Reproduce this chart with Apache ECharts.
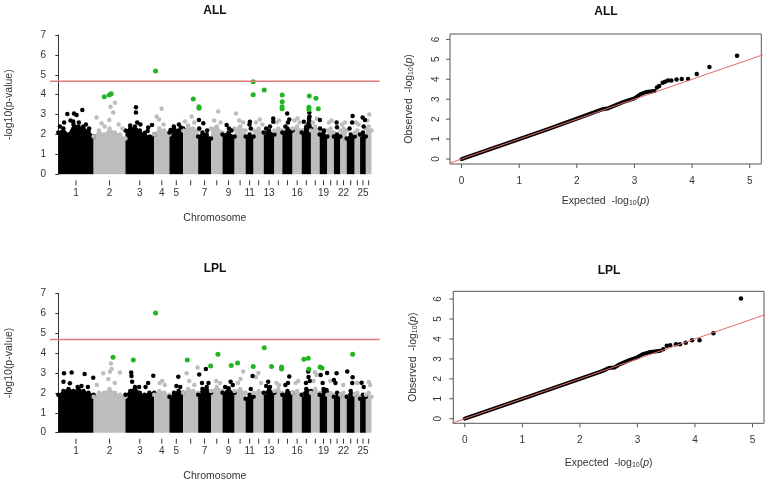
<!DOCTYPE html>
<html><head><meta charset="utf-8">
<script src="https://cdn.jsdelivr.net/npm/echarts@6/dist/echarts.min.js"></script>
<style>html,body{margin:0;padding:0;background:#fff}#c{width:768px;height:488px}</style>
</head><body><div id="c"></div>
<script>
// ---------- data ----------
const chrLengths = [275,248,224,119,107,117,100,90,94,86,62,79,83,62,80,71,72,68,60,51,50,50,62,42,45,44];
const labeledChr = [1,2,3,4,5,7,9,11,13,16,19,22,25];
const threshold = 4.68;

// dense-mass top heights per chromosome (evenly spaced along each chromosome)
const allEnvelope = [
  [2.1,2.3,2.0,2.5,2.4,2.3,2.2,1.9],[1.9,2.2,2.0,2.3,2.1,2.0,1.8],[2.2,2.3,2.4,2.2,2.0,1.9,2.0],
  [2.0,2.3,2.2,2.0],[2.1,2.3,2.2,2.3],[2.2,2.4,2.3,2.2],[1.9,2.1,2.0,1.8],
  [2.3,2.4,2.1],[2.0,2.1,1.9],[2.3,2.4,2.2],[1.9,2.0,1.9],[2.2,2.3,2.1],[2.1,2.2,2.0],
  [2.2,2.3,2.2],[2.1,2.3,2.2],[2.3,2.4,2.2],[2.1,2.4,2.3],[2.2,2.4,2.2],[2.0,2.1,1.9],
  [2.2,2.3,2.1],[1.9,2.0,1.9],[2.2,2.3,2.2],[1.8,2.0,1.9],[2.1,2.2,2.0],[2.0,2.1,1.9],[2.3,2.4,2.2]
];
const allBlack = [
  [12,2.4],[45,2.6],[70,3.03],[95,2.7],[116,2.65],[122,3.06],[142,2.98],[160,2.6],[187,3.23],[194,2.4],[215,2.5],[240,2.3],
  [560,2.45],[605,3.37],[605,3.1],[615,2.6],[640,2.5],[675,2.09],[696,2.18],[700,2.35],[730,2.48],
  [875,2.22],[900,2.4],[940,2.5],[955,2.35],
  [1096,2.73],[1098,2.3],[1130,2.56],[1160,2.2],
  [1312,2.48],[1330,2.3],[1350,2.2],
  [1493,2.64],[1490,2.5],[1500,2.3],
  [1675,2.81],[1675,2.64],[1650,2.4],[1620,2.3],
  [1784,3.06],[1800,2.76],[1790,2.6],[1770,2.4],
  [1914,2.64],[1956,3.1],[1954,2.8],[1950,2.55],[1958,2.9],[1955,2.7],[1957,2.45],[1930,2.3],
  [2039,2.73],[2040,2.3],[2070,2.2],
  [2169,2.6],[2172,2.36],
  [2294,2.93],[2290,2.6],[2270,2.3],
  [2372,2.85],[2390,2.73],[2380,2.4]
];
const allGrey = [
  [298,2.85],[337,2.56],[360,2.4],[397,2.73],[407,3.4],[428,3.1],[441,3.6],[470,2.5],[500,2.3],
  [766,2.9],[785,2.76],[805,3.3],[820,2.5],
  [987,2.65],[1010,2.45],[1039,2.9],[1060,2.6],
  [1215,2.7],[1246,3.15],[1265,2.6],
  [1384,3.06],[1410,2.7],[1440,2.6],
  [1540,2.6],[1570,2.75],[1590,2.5],
  [1700,2.6],[1720,2.7],
  [1840,2.7],[1865,2.8],[1880,2.6],
  [1985,2.6],[2015,2.8],
  [2110,2.6],[2130,2.7],
  [2210,2.5],[2235,2.6],
  [2320,2.6],[2340,2.5],
  [2410,2.7],[2424,3.0]
];
const allGreen = [
  [358,3.9],[397,3.98],[412,4.05],[758,5.19],[1052,3.78],[1096,3.4],[1097,3.32],[1519,4.65],[1519,4.0],
  [1605,4.24],[1745,3.98],[1745,3.65],[1744,3.4],[1744,3.3],[1956,3.93],[1953,3.37],[1953,3.25],[2008,3.82],[2026,3.3]
];

const lplEnvelope = [
  [1.9,2.1,2.2,2.1,2.2,2.1,2.0,1.9],[1.8,2.0,2.0,2.2,2.0,1.9,1.8],[1.9,2.1,2.3,2.0,1.9,2.0,2.0],
  [1.9,2.1,2.0,1.9],[1.8,2.0,2.1,2.0],[2.0,2.2,2.1,2.0],[1.9,2.2,2.3,2.0],
  [2.1,2.3,2.1],[2.0,2.2,2.0],[2.1,2.2,2.0],[1.7,1.9,1.8],[2.0,2.1,2.0],[2.0,2.2,2.0],
  [2.1,2.2,2.0],[1.9,2.1,2.0],[2.0,2.1,1.9],[1.9,2.2,2.1],[2.0,2.2,2.0],[1.9,2.2,2.0],
  [1.9,2.0,1.9],[1.8,2.0,1.9],[1.9,2.0,1.8],[1.8,2.1,1.9],[1.9,2.0,1.8],[1.7,1.9,1.8],[1.9,2.0,1.8]
];
const lplBlack = [
  [40,2.56],[44,2.98],[90,2.48],[104,3.02],[150,2.3],[180,2.35],[205,2.95],[230,2.3],[272,2.76],
  [568,3.02],[570,2.85],[575,2.56],[630,2.3],[680,2.3],[700,2.5],[740,2.86],
  [920,2.35],[935,2.81],[950,2.3],
  [1098,2.92],[1120,2.5],[1150,3.2],[1170,2.5],
  [1300,2.3],[1327,2.23],[1343,2.56],[1360,2.4],
  [1500,2.2],[1514,2.85],
  [1620,2.35],[1636,2.56],[1650,2.3],
  [1770,2.4],[1790,2.5],[1800,2.82],
  [1930,2.5],[1948,3.07],[1950,2.8],[1960,2.6],
  [2045,2.9],[2060,2.5],[2091,2.15],[2095,3.0],
  [2148,2.65],[2160,2.5],[2169,2.98],
  [2252,3.07],[2291,2.5],[2294,2.78],
  [2364,2.51],[2380,2.3]
];
const lplGrey = [
  [300,2.4],[350,2.98],[390,2.7],[402,3.06],[410,3.48],[415,3.2],[440,2.5],[480,3.02],
  [790,2.5],[810,2.6],[830,2.4],
  [1000,2.98],[1020,2.6],[1060,2.4],[1085,3.28],
  [1230,2.6],[1260,2.5],
  [1400,2.5],[1420,2.7],[1441,3.07],
  [1540,2.8],[1560,3.0],[1580,2.5],
  [1700,2.5],[1720,2.4],
  [1850,2.5],[1870,2.6],
  [1990,2.6],[2000,3.03],[2013,2.9],
  [2120,2.6],[2220,2.4],[2330,2.5],[2420,2.55],[2430,2.4]
];
const lplGreen = [
  [426,3.79],[584,3.65],[758,6.01],[1005,3.65],[1187,3.35],[1244,3.94],[1348,3.38],[1397,3.5],[1519,3.33],
  [1605,4.27],[1662,3.33],[1740,3.3],[1740,3.2],[1914,3.69],[1948,3.74],[1953,3.18],[2040,3.3],[2055,3.25],[2294,3.94]
];

// QQ plots [expected, observed]
const qqAllBody = [[0,0],[0.5,0.5],[1,1],[1.5,1.5],[2,2.02],[2.45,2.5],[2.55,2.55],[2.8,2.85],[3.0,3.04],[3.1,3.24],[3.2,3.36],[3.35,3.41]];
const qqAllTail = [[3.39,3.59],[3.43,3.66],[3.49,3.83],[3.53,3.88],[3.58,3.94],[3.64,3.94],[3.73,3.99],[3.82,4.01],[3.93,4.01],[4.08,4.26],[4.30,4.61],[4.78,5.18]];
const qqLplBody = [[0,0],[1,1],[2,2],[2.4,2.4],[2.5,2.54],[2.6,2.57],[2.7,2.74],[2.86,2.94],[3.0,3.08],[3.09,3.24],[3.2,3.33],[3.4,3.41]];
const qqLplTail = [[3.45,3.48],[3.51,3.66],[3.57,3.69],[3.67,3.73],[3.74,3.74],[3.84,3.81],[3.95,3.93],[4.08,3.93],[4.32,4.28],[4.80,6.03]];
const qqTicksX = [0,1,2,3,4,5];
const qqTicksY = [0,1,2,3,4,5,6];

// ---------- build ----------
const FONT = 'Liberation Sans, Arial, Helvetica, sans-serif';
const TXT = '#333';
const BLACK = '#000', GREY = '#bdbdbd', GREEN = '#22b522', RED = '#e07b7b';
const starts = []; let acc = 0;
chrLengths.forEach(l => { starts.push(acc); acc += l; });
const centers = chrLengths.map((l, i) => starts[i] + l / 2);
const labelCenters = labeledChr.map(c => centers[c - 1]);
const chrOf = v => { for (let i = 0; i < centers.length; i++) if (Math.abs(centers[i] - v) < 0.01) return String(i + 1); return ''; };

const grids = [
  {left: 50, top: 35, width: 329.7, height: 139.3},
  {left: 50, top: 293.3, width: 329.7, height: 139.4},
  {left: 450, top: 34, width: 311.3, height: 130, show: true, borderColor: '#555', borderWidth: 1},
  {left: 453.3, top: 291.3, width: 310.7, height: 132, show: true, borderColor: '#555', borderWidth: 1}
];

function manX(g) {
  return {type: 'value', gridIndex: g, min: -65, max: 2505,
    axisLine: {show: false}, splitLine: {show: false}, axisTick: {show: false},
    axisLabel: {customValues: labelCenters, formatter: chrOf, fontSize: 10, color: TXT, margin: 14, fontFamily: FONT},
    name: 'Chromosome', nameLocation: 'middle', nameGap: 38, nameTextStyle: {fontSize: 10.5, color: TXT, fontFamily: FONT}};
}
function manY(g) {
  return {type: 'value', gridIndex: g, min: 0, max: 7, interval: 1,
    axisLine: {show: true, lineStyle: {color: TXT}}, splitLine: {show: false},
    axisTick: {show: true, inside: false, length: 3, lineStyle: {color: TXT}},
    axisLabel: {fontSize: 10, color: TXT, margin: 4, fontFamily: FONT},
    name: '-log10(p-value)', nameLocation: 'middle', nameGap: 35, nameTextStyle: {fontSize: 10.5, color: TXT, fontFamily: FONT}};
}
const richName = {s: {fontSize: 7, verticalAlign: 'bottom', color: TXT, fontFamily: FONT, padding: [4, 0, 0, 0]}, i: {fontStyle: 'italic', fontSize: 10.5, color: TXT, fontFamily: FONT}};
function qqX(g, gap, margin) {
  return {type: 'value', gridIndex: g, min: -0.2, max: 5.2,
    axisLine: {show: false}, splitLine: {show: false}, axisTick: {show: false},
    axisLabel: {customValues: qqTicksX, fontSize: 10, color: TXT, margin: margin, fontFamily: FONT},
    name: 'Expected  -log{s|10}({i|p})', nameLocation: 'middle', nameGap: gap,
    nameTextStyle: {fontSize: 10.5, color: TXT, fontFamily: FONT, rich: richName}};
}
function qqY(g, mn, mx, margin) {
  return {type: 'value', gridIndex: g, min: mn, max: mx,
    axisLine: {show: false}, splitLine: {show: false}, axisTick: {show: false},
    axisLabel: {customValues: qqTicksY, fontSize: 10, color: TXT, margin: margin, rotate: 90, fontFamily: FONT},
    name: 'Observed  -log{s|10}({i|p})', nameLocation: 'middle', nameGap: 35,
    nameTextStyle: {fontSize: 10.5, color: TXT, fontFamily: FONT, rich: richName}};
}

// tick marks drawn through the axis scales (custom series, outside the plot area)
function tickSeries(values, g, dir, y0, from, len, color) {
  return {type: 'custom', xAxisIndex: g, yAxisIndex: g, silent: true, z: 7, animation: false, clip: false,
    data: values.map(v => [v]),
    renderItem: (params, api) => {
      const cs = params.coordSys;
      if (dir === 'x') {
        const p = api.coord([api.value(0), y0]);
        const yb = cs.y + cs.height + from;
        return {type: 'line', shape: {x1: p[0], y1: yb, x2: p[0], y2: yb + len}, style: {stroke: color, lineWidth: 1}};
      }
      const p = api.coord([y0, api.value(0)]);
      const xl = cs.x - from;
      return {type: 'line', shape: {x1: xl, y1: p[1], x2: xl - len, y2: p[1]}, style: {stroke: color, lineWidth: 1}};
    }};
}

function envSeries(env, g) {
  return env.map((h, ci) => {
    const c = ci % 2 === 0 ? BLACK : GREY;
    const s = starts[ci], L = chrLengths[ci], n = h.length;
    return {type: 'line', xAxisIndex: g, yAxisIndex: g, data: h.map((v, i) => [s + L * i / (n - 1), v]),
      symbol: 'circle', symbolSize: 4.5, showSymbol: true, lineStyle: {width: 1, color: c},
      itemStyle: {color: c}, areaStyle: {color: c, opacity: 1}, silent: true, z: 2, animation: false};
  });
}
const dots = (data, g, color, z, size) => ({type: 'scatter', xAxisIndex: g, yAxisIndex: g, data, symbol: 'circle',
  symbolSize: size || 4.5, itemStyle: {color, opacity: 1}, silent: true, z, animation: false});
const hline = (g) => ({type: 'line', xAxisIndex: g, yAxisIndex: g, data: [[-65, threshold], [2505, threshold]],
  symbol: 'none', lineStyle: {color: RED, width: 1.5}, silent: true, z: 6, animation: false});
const diag = (g) => ({type: 'line', xAxisIndex: g, yAxisIndex: g, data: [[-1, -1], [6, 6]], symbol: 'none',
  lineStyle: {color: '#e06a6a', width: 1}, silent: true, z: 6, animation: false, clip: true});
const body = (data, g) => ({type: 'line', xAxisIndex: g, yAxisIndex: g, data, symbol: 'none',
  lineStyle: {color: '#000', width: 4, cap: 'round', join: 'round'}, silent: true, z: 3, animation: false});

const series = [].concat(
  envSeries(allEnvelope, 0),
  [dots(allGrey, 0, GREY, 3), dots(allBlack, 0, BLACK, 4), dots(allGreen, 0, GREEN, 5, 5), hline(0)],
  envSeries(lplEnvelope, 1),
  [dots(lplGrey, 1, GREY, 3), dots(lplBlack, 1, BLACK, 4), dots(lplGreen, 1, GREEN, 5, 5), hline(1)],
  [body(qqAllBody, 2), dots(qqAllTail, 2, BLACK, 4, 4.5), diag(2)],
  [body(qqLplBody, 3), dots(qqLplTail, 3, BLACK, 4, 4.5), diag(3)],
  [tickSeries(centers, 0, 'x', 0, 6, 5, TXT), tickSeries(centers, 1, 'x', 0, 6, 5, TXT),
   tickSeries(qqTicksX, 2, 'x', 0, 0, 4, '#555'), tickSeries(qqTicksX, 3, 'x', 0, 0, 4, '#555'),
   tickSeries(qqTicksY, 2, 'y', 0, 0, 4, '#555'), tickSeries(qqTicksY, 3, 'y', 0, 0, 4, '#555')]
);

const title = (t, x, y) => ({type: 'text', x, y, style: {text: t, textAlign: 'center', textVerticalAlign: 'middle',
  font: 'bold 12px ' + FONT, fill: '#111'}});

const chart = echarts.init(document.getElementById('c'), null, {renderer: 'canvas'});
chart.setOption({
  animation: false,
  backgroundColor: '#fff',
  grid: grids,
  xAxis: [manX(0), manX(1), qqX(2, 32, 12), qqX(3, 34, 12)],
  yAxis: [manY(0), manY(1), qqY(2, -0.25, 6.27, 9), qqY(3, -0.23, 6.39, 10)],
  series,
  graphic: [title('ALL', 215, 11), title('ALL', 606, 12), title('LPL', 215, 269), title('LPL', 609, 271)]
});
</script></body></html>
